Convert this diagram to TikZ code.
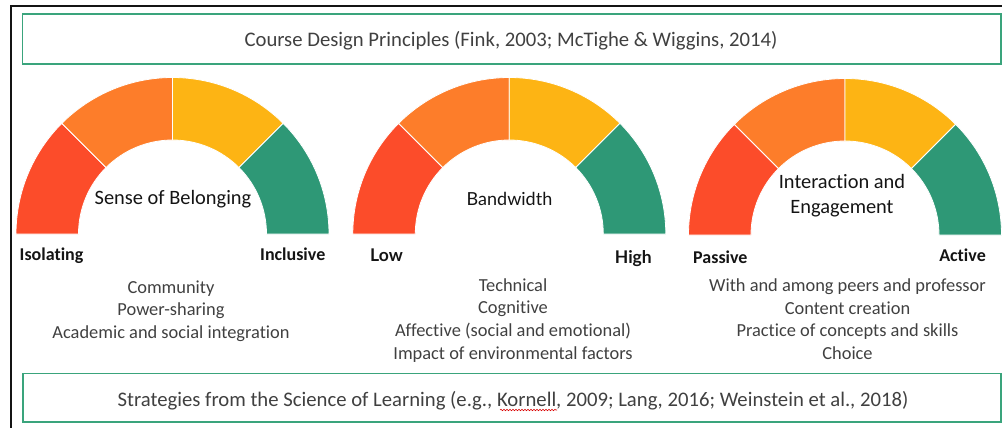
\documentclass[tikz,border=0pt]{standalone}
\usepackage{fontspec}
\setmainfont{Carlito}[Ligatures=NoCommon]
\newfontfamily\latofont{Lato}[Ligatures=NoCommon]
\usetikzlibrary{calc,decorations.pathmorphing}

\definecolor{gred}{RGB}{252,76,42}
\definecolor{gorange}{RGB}{253,125,42}
\definecolor{gyellow}{RGB}{253,180,20}
\definecolor{ggreen}{RGB}{46,152,118}
\definecolor{boxgreen}{RGB}{58,164,124}
\definecolor{textgray}{RGB}{64,64,64}
\definecolor{inkblack}{RGB}{20,20,20}

\tikzset{
  x=1pt, y=-1pt,
  gaugeseg/.style={draw=white, line width=0.8pt, line join=miter},
  framebox/.style={draw=boxgreen, line width=1.8pt},
  outerframe/.style={draw=inkblack, line width=2.4pt},
  banner/.style={anchor=base, inner sep=0pt, text=textgray, font=\fontsize{20.7}{24}\selectfont},
  dialname/.style={anchor=base, inner sep=0pt, text=inkblack, font=\fontsize{20.4}{24}\selectfont},
  endlabel/.style={inner sep=0pt, text=inkblack, font=\bfseries\fontsize{18}{21}\selectfont},
  latoname/.style={anchor=base, inner sep=0pt, text=inkblack, font=\latofont\fontsize{18}{21}\selectfont},
  latoend/.style={inner sep=0pt, text=inkblack, font=\latofont\bfseries\fontsize{17.5}{21}\selectfont},
  itemline/.style={anchor=base, inner sep=0pt, text=textgray, font=\fontsize{18.4}{22}\selectfont},
}

% half-ring dial of four 45-degree bands, centre #1,#2
\newcommand\halfdial[2]{%
  \foreach \segstart/\segcol in {180/gred,135/gorange,90/gyellow,45/ggreen}{%
    \pgfmathsetmacro\segstop{\segstart-45}%
    \filldraw[gaugeseg, fill=\segcol]
      ($(#1,#2)+(-\segstart:156.5)$) arc[start angle=-\segstart, end angle=-\segstop, radius=156.5]
      -- ($(#1,#2)+(-\segstop:94)$) arc[start angle=-\segstop, end angle=-\segstart, radius=94]
      -- cycle;
  }%
}

\begin{document}
\begin{tikzpicture}
\useasboundingbox (0,0) rectangle (1002,428);

% outer frame (top and left edges)
\draw[outerframe] (11,430) -- (11,6) -- (1004,6);

% heading and footer boxes
\draw[framebox] (22.5,14) rectangle (1001,64);
\node[banner] (design) at (511,46.5) {Course Design Principles (Fink, 2003; McTighe \& Wiggins, 2014)};

\draw[framebox] (23,373.5) rectangle (1001,422);
\node[banner] (science) at (513,406.5) {Strategies from the Science of Learning (e.g., Kornell, 2009; Lang, 2016; Weinstein et al., 2018)};
\draw[red!85!black, line width=0.6pt, decorate, decoration={snake, amplitude=0.7pt, segment length=3pt}]
  (500,410) -- (557,410);

% dials
\halfdial{172.5}{234}
\halfdial{509.3}{234}
\halfdial{845}{235}

% belonging
\node[dialname] (belong) at (173,204) {Sense of Belonging};
\node[endlabel, anchor=base west] (isol) at (19.5,260) {Isolating};
\node[endlabel, anchor=base east] (incl) at (325.5,260) {Inclusive};
\node[itemline] (b1) at (171,293.5) {Community};
\node[itemline] (b2) at (171,315.8) {Power-sharing};
\node[itemline] (b3) at (171,338) {Academic and social integration};

% bandwidth
\node[latoname] (band) at (509.5,205) {Bandwidth};
\node[latoend, anchor=base west] (low) at (370,261) {Low};
\node[latoend, anchor=base east] (high) at (652,263.3) {High};
\node[itemline] (w1) at (513,291) {Technical};
\node[itemline] (w2) at (513,313.6) {Cognitive};
\node[itemline] (w3) at (513,336.5) {Affective (social and emotional)};
\node[itemline] (w4) at (513,359.2) {Impact of environmental factors};

% interaction
\node[dialname] (inter1) at (842,188.3) {Interaction and};
\node[dialname] (inter2) at (842,213.3) {Engagement};
\node[endlabel, anchor=base west] (pass) at (693,263.3) {Passive};
\node[endlabel, anchor=base east] (act) at (986,261.7) {Active};
\node[itemline] (i1) at (847.5,291.7) {With and among peers and professor};
\node[itemline] (i2) at (847.5,314.2) {Content creation};
\node[itemline] (i3) at (847.5,336.8) {Practice of concepts and skills};
\node[itemline] (i4) at (847.5,359.5) {Choice};
\end{tikzpicture}
\end{document}
